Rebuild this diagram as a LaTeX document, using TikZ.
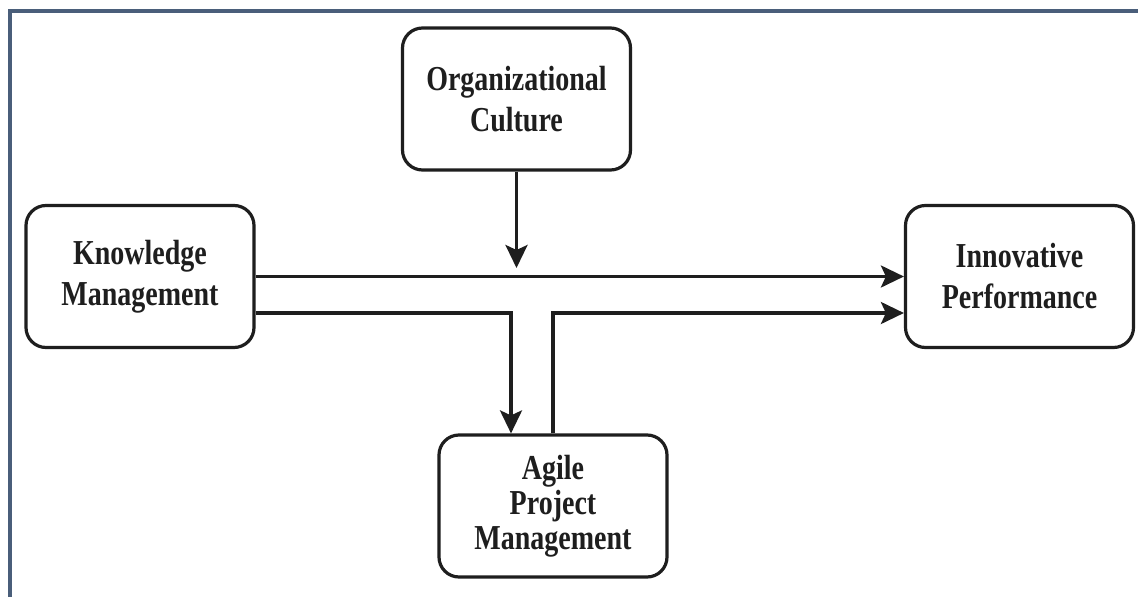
\documentclass[tikz,border=0pt]{standalone}
\usepackage{fontspec}
\usetikzlibrary{arrows.meta}
\newfontfamily\labfont{Liberation Serif}[FakeStretch=0.8]
\definecolor{framecol}{HTML}{4A5E7A}
\definecolor{inkcol}{HTML}{1E1E1E}
\begin{document}
\begin{tikzpicture}[x=1pt,y=-1pt,
  box/.style={draw=inkcol, line width=3.2pt, rounded corners=20pt,
    minimum width=228pt, minimum height=142pt, align=center,
    text=inkcol, font=\labfont\bfseries\fontsize{35}{41}\selectfont},
  arr/.style={draw=inkcol, line width=3.2pt,
    -{Stealth[length=23pt,width=22pt,inset=5pt]}},
  link/.style={draw=inkcol, line width=3.2pt}]
  \useasboundingbox (0,0) rectangle (1138,597);
  \fill[white] (0,0) rectangle (1138,597);
  % outer frame lines (top and left)
  \draw[framecol, line width=3.5pt] (10,597) -- (10,11) -- (1138,11);

  % boxes
  \node[box] (org) at (516.5,99) {Organizational\\Culture};
  \node[box] (km) at (140,276.5) {Knowledge\\Management};
  \node[box] (ip) at (1019.5,276.5) {Innovative\\Performance};
  \node[box, font=\labfont\bfseries\fontsize{35}{35}\selectfont] (apm) at (553,506) {Agile\\Project\\Management};

  % moderating arrow
  \coordinate (modend) at (516.5,268);
  \draw[arr] (org.south) -- (modend);

  % direct path
  \draw[arr] (km.east) -- (km.east -| ip.west);

  % mediated path through agile project management
  \draw[arr] ([yshift=-36.5pt]km.east) -| ([xshift=-42pt]apm.north);
  \draw[arr] (apm.north) |- ([yshift=-36.5pt]ip.west);
\end{tikzpicture}
\end{document}
